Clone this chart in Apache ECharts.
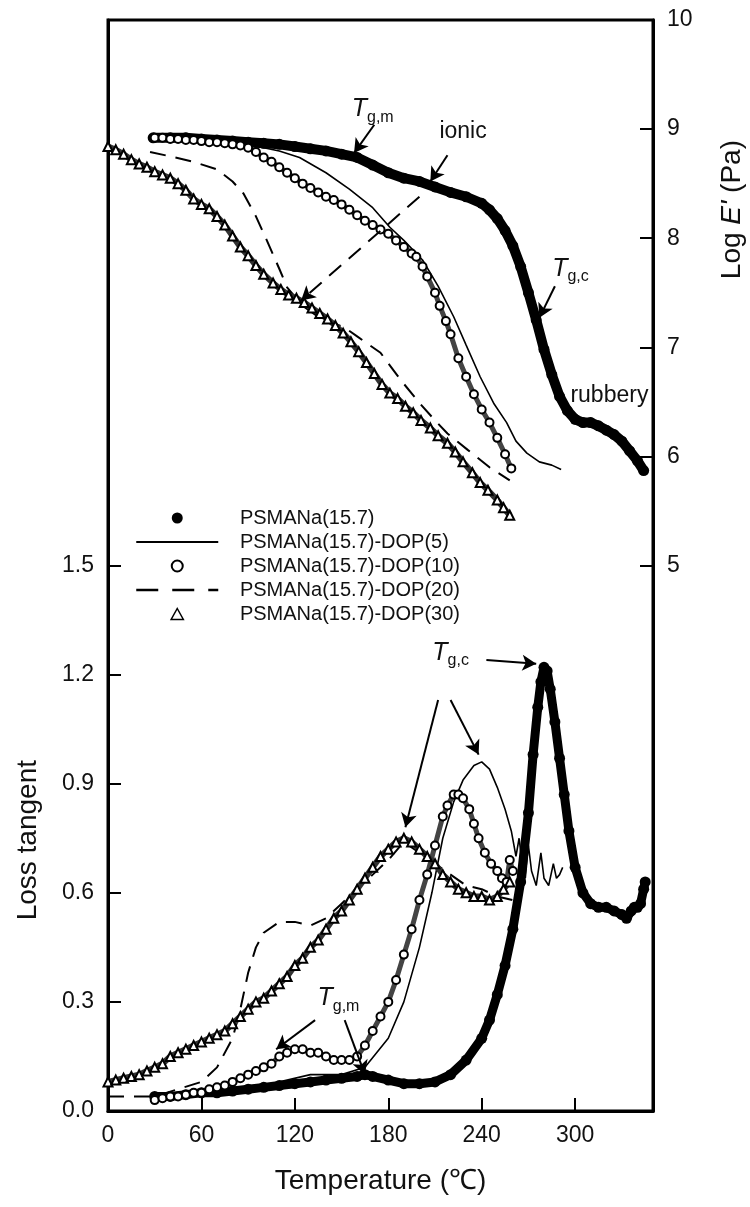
<!DOCTYPE html>
<html><head><meta charset="utf-8">
<script src="https://cdn.jsdelivr.net/npm/echarts@6/dist/echarts.min.js"></script>
<style>html,body{margin:0;padding:0;background:#fff}#c{width:750px;height:1207px}</style>
</head><body><div id="c"></div>
<script>
// ---- series names ----
const names = ['PSMANa(15.7)', 'PSMANa(15.7)-DOP(5)', 'PSMANa(15.7)-DOP(10)', 'PSMANa(15.7)-DOP(20)', 'PSMANa(15.7)-DOP(30)'];

// ---- tick labels ----
const xTicks = [0, 60, 120, 180, 240, 300];
const tanTicks = [0, 0.3, 0.6, 0.9, 1.2, 1.5];
const logTicks = [5, 6, 7, 8, 9, 10];

// ---- Log E' (right axis) ----
const eT_ps  = [29,40,50,60,70,80,90,100,110,120,130,140,150,160,170,180,190,200,210,220,230,240,245,250,255,260,265,270,275,280,285,290,295,300,305,310,315,320,325,330,335,340,344];
const eV_ps  = [8.92,8.92,8.92,8.91,8.9,8.89,8.88,8.87,8.86,8.84,8.82,8.8,8.77,8.74,8.67,8.6,8.55,8.52,8.47,8.42,8.38,8.32,8.26,8.18,8.07,7.93,7.74,7.5,7.25,6.98,6.75,6.55,6.42,6.34,6.31,6.31,6.28,6.24,6.2,6.14,6.05,5.96,5.87];

const eT_d5  = [30,60,90,110,123,140,155,170,181,190,202,212,222,230,239,248,256,262,269,277,285,291];
const eV_d5  = [8.92,8.9,8.86,8.8,8.74,8.6,8.45,8.28,8.1,7.98,7.8,7.56,7.28,7.02,6.73,6.48,6.31,6.14,6.03,5.95,5.92,5.88];

const eT_d10 = [30,35,40,45,50,55,60,65,70,75,80,85,90,95,100,105,110,115,120,125,130,135,140,145,150,155,160,165,170,175,180,185,190,195,198,202,205,210,213,217,220,225,230,235,240,245,250,255,259];
const eV_d10 = [8.92,8.92,8.91,8.91,8.9,8.9,8.89,8.88,8.88,8.87,8.86,8.85,8.83,8.79,8.74,8.7,8.65,8.6,8.55,8.5,8.46,8.42,8.38,8.35,8.31,8.26,8.21,8.16,8.12,8.08,8.04,7.98,7.92,7.86,7.83,7.74,7.65,7.5,7.38,7.24,7.12,6.9,6.73,6.57,6.43,6.31,6.17,6.02,5.89];

const eT_d20 = [27,40,55,70,80,87,95,102,110,115,125,135,145,152,160,175,188,200,210,218,231,245,258];
const eV_d20 = [8.79,8.75,8.7,8.63,8.52,8.41,8.2,7.98,7.72,7.55,7.38,7.28,7.22,7.18,7.1,6.95,6.7,6.49,6.33,6.21,6.06,5.9,5.78];

const eT_d30 = [0,5,10,15,20,25,30,35,40,45,50,55,60,65,70,75,80,85,90,95,100,106,111,116,121,126,131,136,141,146,151,156,161,166,171,176,181,186,191,196,201,207,212,218,223,228,234,239,244,250,254,258];
const eV_d30 = [8.84,8.81,8.77,8.72,8.68,8.65,8.61,8.58,8.55,8.5,8.44,8.36,8.31,8.27,8.2,8.12,8.02,7.92,7.84,7.75,7.67,7.59,7.53,7.48,7.45,7.41,7.36,7.31,7.26,7.2,7.13,7.05,6.96,6.86,6.76,6.66,6.58,6.53,6.46,6.4,6.33,6.26,6.19,6.12,6.04,5.95,5.85,5.76,5.69,5.6,5.53,5.46];

// ---- Loss tangent (left axis) ----
const tT_ps  = [30,40,50,60,70,80,90,100,110,120,130,140,150,160,165,170,180,190,200,210,220,230,240,245,250,255,260,265,270,273,276,278,280,282,284,287,290,293,296,300,305,310,315,320,325,330,333,336,338,340,342,344,345];
const tV_ps  = [0.04,0.04,0.045,0.05,0.05,0.055,0.06,0.065,0.07,0.075,0.08,0.085,0.09,0.095,0.1,0.095,0.085,0.075,0.075,0.08,0.1,0.14,0.2,0.25,0.32,0.4,0.5,0.63,0.82,0.98,1.11,1.18,1.22,1.21,1.16,1.07,0.97,0.87,0.77,0.67,0.6,0.57,0.56,0.56,0.55,0.54,0.53,0.55,0.56,0.56,0.57,0.61,0.63];

const tT_d5  = [30,60,100,130,150,165,180,190,200,208,215,222,228,235,240,245,250,255,259,262,264,266,268,270,272,275,278,280,283,286,288,290,292];
const tV_d5  = [0.04,0.05,0.07,0.1,0.1,0.12,0.2,0.3,0.45,0.6,0.75,0.85,0.91,0.95,0.96,0.94,0.89,0.83,0.77,0.7,0.75,0.68,0.64,0.73,0.66,0.62,0.71,0.64,0.62,0.68,0.64,0.65,0.67];

const tT_d10 = [30,35,40,45,50,55,60,65,70,75,80,85,90,95,100,105,110,115,120,125,130,135,140,145,150,155,160,165,170,175,180,185,190,195,200,205,210,215,218,222,225,228,232,235,238,242,246,250,253,256,258,260];
const tV_d10 = [0.03,0.035,0.04,0.04,0.045,0.05,0.05,0.06,0.065,0.07,0.08,0.09,0.1,0.11,0.12,0.13,0.15,0.16,0.17,0.17,0.16,0.16,0.15,0.14,0.14,0.14,0.15,0.18,0.22,0.26,0.3,0.36,0.43,0.5,0.58,0.65,0.73,0.81,0.84,0.87,0.87,0.86,0.83,0.79,0.75,0.71,0.68,0.66,0.64,0.63,0.69,0.66];

const tT_d20 = [0,30,60,70,80,85,90,95,100,110,120,130,140,150,160,170,180,190,200,210,220,230,240,250,260];
const tV_d20 = [0.04,0.04,0.08,0.12,0.2,0.28,0.38,0.45,0.49,0.52,0.52,0.51,0.53,0.57,0.61,0.65,0.69,0.74,0.71,0.68,0.65,0.62,0.61,0.59,0.58];

const tT_d30 = [0,5,10,15,20,25,30,35,40,45,50,55,60,65,70,75,80,85,90,95,100,105,110,115,120,125,130,135,140,145,150,155,160,165,170,175,180,185,190,195,200,205,210,215,220,225,230,235,240,245,250,254,258];
const tV_d30 = [0.08,0.085,0.09,0.095,0.1,0.11,0.12,0.13,0.15,0.16,0.17,0.18,0.19,0.2,0.21,0.22,0.24,0.26,0.28,0.3,0.31,0.33,0.35,0.37,0.4,0.42,0.45,0.47,0.5,0.53,0.55,0.58,0.61,0.64,0.67,0.7,0.72,0.74,0.75,0.74,0.72,0.7,0.68,0.65,0.63,0.61,0.6,0.59,0.59,0.58,0.59,0.61,0.63];

const zip = (a, b) => a.map((v, i) => [v, b[i]]);
const FONT = 'Liberation Sans, Arial, sans-serif';

const chart = echarts.init(document.getElementById('c'), null, {renderer: 'canvas'});

const rich = {
  T: {fontFamily: FONT, fontStyle: 'italic', fontSize: 25, color: '#111', lineHeight: 32, verticalAlign: 'middle'},
  s: {fontFamily: FONT, fontSize: 16, color: '#111', verticalAlign: 'bottom'},
  n: {fontFamily: FONT, fontSize: 23, color: '#111'}
};
function arrows(list, dashed) {
  return {
    silent: true, symbol: ['none', 'arrow'], symbolSize: [12, 14],
    lineStyle: {color: '#000', width: 2, type: dashed ? [16, 10] : 'solid'},
    label: {show: false}, emphasis: {disabled: true}, animation: false,
    data: list.map(p => [{coord: p[0]}, {coord: p[1]}])
  };
}
function labels(list) {
  return {
    silent: true, symbol: 'circle', symbolSize: 0, animation: false,
    label: {show: true, position: 'inside', rich: rich, color: '#111', fontFamily: FONT, fontSize: 23},
    data: list.map(p => ({coord: p[0], value: 0, label: {formatter: p[1]}}))
  };
}

const symSeries = (name, yi, data, sym, size, lw, lc, extra) => Object.assign({
  name, type: 'line', yAxisIndex: yi, data, symbol: sym, symbolSize: size, showSymbol: true, showAllSymbol: true,
  color: '#000',
  lineStyle: {color: lc, width: lw}, itemStyle: {color: '#000', borderWidth: 1.4},
  emphasis: {disabled: true}, clip: true, z: 3
}, extra || {});

const plainLine = (name, yi, data, type, extra) => Object.assign({
  name, type: 'line', yAxisIndex: yi, data, symbol: 'none', color: '#000',
  lineStyle: {color: '#000', width: type === 'solid' ? 1.6 : 2, type: type},
  emphasis: {disabled: true}, z: 2
}, extra || {});

const option = {
  animation: false,
  backgroundColor: '#fff',
  grid: {left: 108, right: 97, top: 20, bottom: 96, show: true, borderColor: '#000', borderWidth: 3, backgroundColor: 'transparent'},
  legend: {
    orient: 'vertical', left: 130, top: 503, itemWidth: 82, itemHeight: 11, itemGap: 4,
    symbolKeepAspect: true,
    textStyle: {fontFamily: FONT, fontSize: 20, color: '#111', lineHeight: 20},
    formatter: n => '   ' + n,
    selectedMode: false,
    data: [
      {name: names[0], icon: 'circle', itemStyle: {color: '#000'}},
      {name: names[1], itemStyle: {opacity: 0}, lineStyle: {color: '#000', width: 2}},
      {name: names[2], icon: 'emptyCircle', itemStyle: {color: '#000', borderColor: '#000', borderWidth: 1.5}},
      {name: names[3], itemStyle: {opacity: 0}, lineStyle: {color: '#000', width: 2.5, type: [22, 14]}},
      {name: names[4], icon: 'path://M5,0 L10,9 L0,9 Z', itemStyle: {color: '#fff', borderColor: '#000', borderWidth: 1.5}}
    ]
  },
  xAxis: {
    type: 'value', min: 0, max: 350, interval: 60,
    axisLine: {show: true, lineStyle: {color: '#000', width: 3}},
    axisTick: {show: true, inside: true, length: 13, lineStyle: {color: '#000', width: 2}},
    axisLabel: {fontFamily: FONT, fontSize: 23, color: '#111', margin: 13, showMaxLabel: false},
    splitLine: {show: false},
    name: 'Temperature (℃)', nameLocation: 'middle', nameGap: 56,
    nameTextStyle: {fontFamily: FONT, fontSize: 28, color: '#111'}
  },
  yAxis: [
    {
      type: 'value', min: 0, max: 3, interval: 0.3, position: 'left',
      axisLine: {show: true, lineStyle: {color: '#000', width: 3}},
      axisTick: {show: true, inside: true, length: 13, lineStyle: {color: '#000', width: 2}, customValues: tanTicks},
      axisLabel: {fontFamily: FONT, fontSize: 23, color: '#111', margin: 14, customValues: tanTicks, formatter: v => v.toFixed(1)},
      splitLine: {show: false}
    },
    {
      type: 'value', min: 0, max: 10, interval: 1, position: 'right',
      axisLine: {show: true, lineStyle: {color: '#000', width: 3}},
      axisTick: {show: true, inside: true, length: 13, lineStyle: {color: '#000', width: 2}, customValues: logTicks},
      axisLabel: {fontFamily: FONT, fontSize: 23, color: '#111', margin: 14, customValues: logTicks},
      splitLine: {show: false}
    }
  ],
  graphic: [
    {type: 'text', left: 14, top: 760, rotation: Math.PI / 2, style: {text: 'Loss tangent', font: '28px ' + FONT, fill: '#111'}},
    {type: 'text', left: 718, top: 140, rotation: Math.PI / 2, style: {text: '{n|Log }{i|E\'}{n| (Pa)}', rich: {n: {fontFamily: FONT, fontSize: 28, fill: '#111'}, i: {fontFamily: FONT, fontSize: 28, fontStyle: 'italic', fill: '#111'}}}}
  ],
  series: [
    // ---- storage modulus ----
    symSeries(names[0], 1, zip(eT_ps, eV_ps), 'circle', 11, 10, '#000', {
      markPoint: labels([
        [[170, 9.18], '{T|T}{s|g,m}'],
        [[228, 8.98], '{n|ionic}'],
        [[297, 7.72], '{T|T}{s|g,c}'],
        [[322, 6.56], '{n|rubbery}']
      ]),
      markLine: arrows([
        [[171, 9.04], [158, 8.78]],
        [[218, 8.76], [207, 8.52]],
        [[287, 7.56], [277, 7.27]]
      ])
    }),
    plainLine(names[1], 1, zip(eT_d5, eV_d5), 'solid'),
    symSeries(names[2], 1, zip(eT_d10, eV_d10), 'emptyCircle', 8, 5, '#444'),
    plainLine(names[3], 1, zip(eT_d20, eV_d20), [16, 10], {markLine: arrows([[[200, 8.38], [124, 7.43]]], true)}),
    symSeries(names[4], 1, zip(eT_d30, eV_d30), 'emptyTriangle', 9, 6, '#333'),

    // ---- loss tangent ----
    symSeries(names[0], 0, zip(tT_ps, tV_ps), 'circle', 11, 9, '#000', {
      markPoint: labels([
        [[220, 1.26], '{T|T}{s|g,c}'],
        [[148, 0.31], '{T|T}{s|g,m}']
      ]),
      markLine: arrows([
        [[243, 1.24], [275, 1.23]],
        [[212, 1.13], [191, 0.78]],
        [[220, 1.13], [238, 0.98]],
        [[133, 0.25], [108, 0.17]],
        [[152, 0.25], [165, 0.1]]
      ])
    }),
    plainLine(names[1], 0, zip(tT_d5, tV_d5), 'solid'),
    symSeries(names[2], 0, zip(tT_d10, tV_d10), 'emptyCircle', 8, 5, '#444'),
    plainLine(names[3], 0, zip(tT_d20, tV_d20), [16, 10]),
    symSeries(names[4], 0, zip(tT_d30, tV_d30), 'emptyTriangle', 9, 6, '#333')
  ]
};
chart.setOption(option);
</script>
</body></html>
